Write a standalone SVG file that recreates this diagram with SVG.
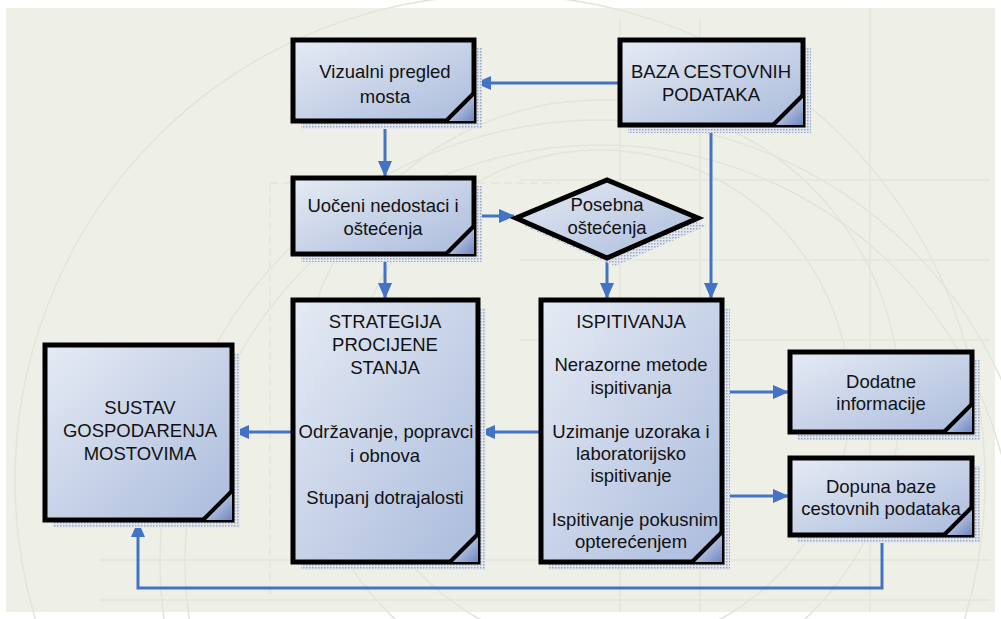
<svg xmlns="http://www.w3.org/2000/svg" width="1001" height="619" viewBox="0 0 1001 619">
<defs>
<linearGradient id="fill" x1="0" y1="0" x2="1" y2="1">
<stop offset="0" stop-color="#e6ebf4"/>
<stop offset="1" stop-color="#aabbdc"/>
</linearGradient>
<linearGradient id="fold" x1="0" y1="0" x2="1" y2="1">
<stop offset="0" stop-color="#eef1f8"/>
<stop offset="1" stop-color="#7088c0"/>
</linearGradient>
<pattern id="dots" width="3" height="3" patternUnits="userSpaceOnUse">
<rect width="3" height="3" fill="#e4e8ee"/>
<rect width="1.5" height="1.5" fill="#9aa8c4"/>
</pattern>
<marker id="arr" viewBox="0 0 16 14" refX="15" refY="7" markerWidth="16" markerHeight="14" orient="auto" markerUnits="userSpaceOnUse">
<path d="M0,0 L16,7 L0,14 z" fill="#4472c4"/>
</marker>
</defs>
<style>
.box{fill:url(#fill);stroke:#000;stroke-width:5;stroke-linejoin:miter}
.sh{fill:url(#dots)}
.fd{fill:url(#fold);stroke:none}
.fl{stroke:#000;stroke-width:4;fill:none}
.t{font-family:"Liberation Sans",Arial,sans-serif;font-size:18.5px;fill:#111;text-anchor:middle}
.c{stroke:#4472c4;stroke-width:3;fill:none}
.bg{stroke:#e2e5da;stroke-width:1.5;fill:none}
</style>
<rect width="1001" height="619" fill="#ffffff"/>
<rect x="6" y="8" width="989" height="604" fill="#eef0e7"/>
<g id="background">
<circle cx="500" cy="480" r="485" class="bg"/>
<circle cx="600" cy="560" r="440" class="bg"/>
<circle cx="600" cy="560" r="415" class="bg"/>
<circle cx="600" cy="400" r="300" class="bg"/>
<circle cx="600" cy="400" r="250" class="bg"/>
<path d="M270 183 H560 M270 183 V600" class="bg" stroke-dasharray="8,5"/>
<path d="M620 20 V612 M700 20 V612 M870 8 V612 M520 180 H990 M520 260 H990 M520 340 H990 M100 560 H990 M100 600 H990" class="bg"/>
</g>
<g id="connectors">
<path d="M620 83 H476" class="c" marker-end="url(#arr)"/>
<path d="M385 124 V176" class="c" marker-end="url(#arr)"/>
<path d="M477 216 H514" class="c" marker-end="url(#arr)"/>
<path d="M607 260 V298" class="c" marker-end="url(#arr)"/>
<path d="M711 127 V298" class="c" marker-end="url(#arr)"/>
<path d="M385 257 V298" class="c" marker-end="url(#arr)"/>
<path d="M541 432 H480" class="c" marker-end="url(#arr)"/>
<path d="M293 432 H234" class="c" marker-end="url(#arr)"/>
<path d="M722 392 H788" class="c" marker-end="url(#arr)"/>
<path d="M722 496 H788" class="c" marker-end="url(#arr)"/>
<path d="M882 537 V588 H138 V522" class="c" marker-end="url(#arr)"/>
</g>
<g id="vizualni">
<rect x="301" y="48" width="181" height="81" class="sh"/>
<rect x="293" y="40" width="181" height="81" class="box"/>
<path d="M446 121 L474 93 V121 Z" class="fd"/>
<path d="M446 121 L474 93" class="fl"/>
<text class="t" x="385" y="78">Vizualni pregled</text>
<text class="t" x="385" y="103">mosta</text>
</g>
<g id="baza">
<rect x="628" y="48" width="183" height="85" class="sh"/>
<rect x="620" y="40" width="183" height="85" class="box"/>
<path d="M773 125 L803 95 V125 Z" class="fd"/>
<path d="M773 125 L803 95" class="fl"/>
<text class="t" x="711" y="78">BAZA CESTOVNIH</text>
<text class="t" x="711" y="101">PODATAKA</text>
</g>
<g id="uoceni">
<rect x="301" y="186" width="181" height="76" class="sh"/>
<rect x="293" y="178" width="181" height="76" class="box"/>
<path d="M446 254 L474 226 V254 Z" class="fd"/>
<path d="M446 254 L474 226" class="fl"/>
<text class="t" x="383" y="212">Uočeni nedostaci i</text>
<text class="t" x="383" y="235">oštećenja</text>
</g>
<g id="posebna">
<path d="M524 226 L615 188 L706 226 L615 266 Z" class="sh"/>
<path d="M516 218 L607 180 L698 218 L607 258 Z" class="box"/>
<text class="t" x="607" y="211">Posebna</text>
<text class="t" x="607" y="234">oštećenja</text>
</g>
<g id="strategija">
<rect x="301" y="308" width="185" height="262" class="sh"/>
<rect x="293" y="300" width="185" height="262" class="box"/>
<path d="M450 562 L478 534 V562 Z" class="fd"/>
<path d="M450 562 L478 534" class="fl"/>
<text class="t" x="385" y="328">STRATEGIJA</text>
<text class="t" x="385" y="351">PROCIJENE</text>
<text class="t" x="385" y="374">STANJA</text>
<text class="t" x="386" y="438">Održavanje, popravci</text>
<text class="t" x="385" y="462">i obnova</text>
<text class="t" x="385" y="504">Stupanj dotrajalosti</text>
</g>
<g id="ispitivanja">
<rect x="549" y="308" width="181" height="262" class="sh"/>
<rect x="541" y="300" width="181" height="262" class="box"/>
<path d="M692 562 L722 532 V562 Z" class="fd"/>
<path d="M692 562 L722 532" class="fl"/>
<text class="t" x="631" y="328">ISPITIVANJA</text>
<text class="t" x="631" y="371">Nerazorne metode</text>
<text class="t" x="631" y="394">ispitivanja</text>
<text class="t" x="631" y="438">Uzimanje uzoraka i</text>
<text class="t" x="631" y="460">laboratorijsko</text>
<text class="t" x="631" y="482">ispitivanje</text>
<text class="t" x="635" y="526">Ispitivanje pokusnim</text>
<text class="t" x="631" y="548">opterećenjem</text>
</g>
<g id="sustav">
<rect x="53" y="353" width="187" height="175" class="sh"/>
<rect x="45" y="345" width="187" height="175" class="box"/>
<path d="M203 520 L232 491 V520 Z" class="fd"/>
<path d="M203 520 L232 491" class="fl"/>
<text class="t" x="140" y="414">SUSTAV</text>
<text class="t" x="140" y="437">GOSPODARENJA</text>
<text class="t" x="140" y="460">MOSTOVIMA</text>
</g>
<g id="dodatne">
<rect x="798" y="360" width="182" height="80" class="sh"/>
<rect x="790" y="352" width="182" height="80" class="box"/>
<path d="M944 432 L972 404 V432 Z" class="fd"/>
<path d="M944 432 L972 404" class="fl"/>
<text class="t" x="881" y="388">Dodatne</text>
<text class="t" x="881" y="410">informacije</text>
</g>
<g id="dopuna">
<rect x="798" y="466" width="182" height="77" class="sh"/>
<rect x="790" y="458" width="182" height="77" class="box"/>
<path d="M944 535 L972 507 V535 Z" class="fd"/>
<path d="M944 535 L972 507" class="fl"/>
<text class="t" x="881" y="493">Dopuna baze</text>
<text class="t" x="881" y="515">cestovnih podataka</text>
</g>
</svg>
